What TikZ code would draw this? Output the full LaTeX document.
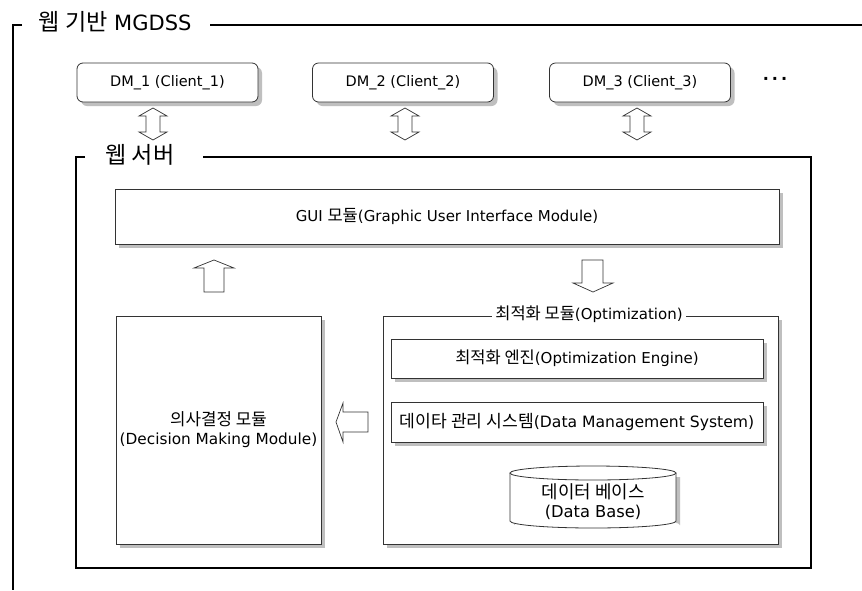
\documentclass[tikz,border=0pt]{standalone}
\usepackage{fontspec}
\setmainfont{DejaVu Sans}
\newfontfamily\krfont[Scale=1.1]{Noto Sans CJK KR}
\newcommand{\kr}[1]{{\krfont #1}}
\usetikzlibrary{shadows}
\begin{document}
\begin{tikzpicture}[x=1pt,y=-1pt,
  shad/.style={drop shadow={shadow xshift=4pt,shadow yshift=-4pt,fill=black!25,opacity=1}},
  client/.style={draw=black!80,line width=0.8pt,rounded corners=6pt,fill=white,shad,minimum width=181pt,minimum height=39pt,inner sep=0pt,font=\fontsize{14.5}{16}\selectfont},
  box/.style={draw=black!80,line width=0.8pt,fill=white,shad,inner sep=0pt,font=\fontsize{15}{18}\selectfont,align=center},
  frametitle/.style={font=\fontsize{21}{23}\selectfont,inner sep=0pt,anchor=center},
  blk/.style={draw=black!80,line width=0.7pt,fill=white,line join=miter}
]
\useasboundingbox[fill=white] (0,0) rectangle (862,590);

% outer frame
\draw[line width=2.6pt] (22,25) -- (13,25) -- (13,590);
\draw[line width=2.6pt] (210,25) -- (862,25);
\node[frametitle] (outertitle) at (115,22) {\kr{웹 기반} MGDSS};

% clients
\node[client] (dm1) at (167.5,82.5) {DM\_1 (Client\_1)};
\node[client] (dm2) at (403,82.5) {DM\_2 (Client\_2)};
\node[client] (dm3) at (640,82.5) {DM\_3 (Client\_3)};
\node[font=\fontsize{16}{18}\selectfont\bfseries,inner sep=0pt] (more) at (775,81) {·\kern3pt·\kern3pt·};

% web server frame
\draw[line width=1.8pt] (85,157) -- (76,157) -- (76,568) -- (811,568) -- (811,157) -- (203,157);
\node[frametitle] (wstitle) at (140,155) {\kr{웹 서버}};

% double arrows (client <-> web server)
\foreach \cx in {153,405,637}{
  \draw[blk] (\cx,108) -- (\cx+14,116) -- (\cx+7,116) -- (\cx+7,132) -- (\cx+14,132) -- (\cx,140)
     -- (\cx-14,132) -- (\cx-7,132) -- (\cx-7,116) -- (\cx-14,116) -- cycle;
}

% GUI module
\node[box,minimum width=664pt,minimum height=55pt] (gui) at (447,216.5) {GUI \kr{모듈}(Graphic User Interface Module)};

% decision module
\node[box,minimum width=205pt,minimum height=228pt,font=\fontsize{15.3}{19}\selectfont] (dec) at (218.5,430) {\kr{의사결정 모듈}\\(Decision Making Module)};

% optimization frame
\node[draw=black!80,line width=0.8pt,fill=white,shad,minimum width=395pt,minimum height=228pt,inner sep=0pt] (opt) at (580.5,430) {};
\node[fill=white,inner sep=3pt,font=\fontsize{15}{17}\selectfont] (opttitle) at (589,314) {\kr{최적화 모듈}(Optimization)};

\node[box,minimum width=372pt,minimum height=39pt] (eng) at (577,358.5) {\kr{최적화 엔진}(Optimization Engine)};
\node[box,minimum width=372pt,minimum height=40pt,font=\fontsize{15.6}{18}\selectfont] (dms) at (577,422) {\kr{데이타 관리 시스템}(Data Management System)};

% database cylinder
\begin{scope}
  \fill[black!25] (514,477) -- (514,525) arc[start angle=180,end angle=360,x radius=83,y radius=7] -- (680,477) -- cycle;
  \draw[blk,line width=0.8pt] (510,473) -- (510,521) arc[start angle=180,end angle=360,x radius=83,y radius=-7] -- (676,473);
  \draw[blk,line width=0.8pt] (593,473) ellipse[x radius=83,y radius=7];
\end{scope}
\node[align=center,inner sep=0pt,font=\fontsize{16.3}{19}\selectfont] (db) at (593,502) {\kr{데이터 베이스}\\(Data Base)};

% block arrows
\draw[blk] (214,260) -- (234,268) -- (224,268) -- (224,292) -- (204,292) -- (204,268) -- (194,268) -- cycle; % up
\draw[blk] (593,292) -- (613,283) -- (603,283) -- (603,260) -- (582,260) -- (582,283) -- (573,283) -- cycle; % down
\draw[blk] (336,422) -- (343,403) -- (343,412) -- (368,412) -- (368,432) -- (343,432) -- (343,442) -- cycle; % left
\end{tikzpicture}
\end{document}
